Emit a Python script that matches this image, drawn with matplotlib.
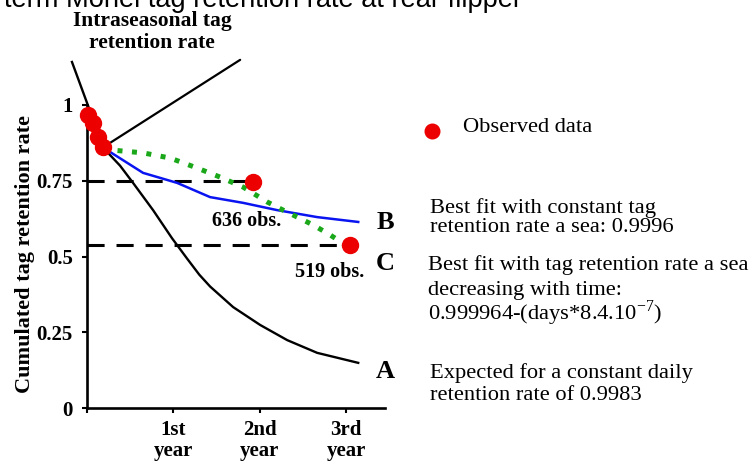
import matplotlib
matplotlib.use('Agg')
import matplotlib.pyplot as plt
from matplotlib.lines import Line2D

plt.rcParams['mathtext.fontset'] = 'custom'
plt.rcParams['mathtext.rm'] = 'Liberation Serif'

# ---------------- data (x in years, y = cumulated retention) ----------------
obs_x = [0.01, 0.07, 0.13, 0.185, 1.92, 3.05]
obs_y = [0.967, 0.941, 0.894, 0.861, 0.746, 0.538]

intra_x = [-0.174, 0.19]
intra_y = [1.142, 0.86]

curveA_x = [0.19, 0.243, 0.382, 0.533, 0.765, 0.985, 1.159, 1.30, 1.425, 1.692, 2.005, 2.318, 2.665, 3.14]
curveA_y = [0.86, 0.842, 0.800, 0.743, 0.653, 0.560, 0.493, 0.440, 0.401, 0.333, 0.274, 0.224, 0.182, 0.149]

curveB_x = [0.19, 0.267, 0.649, 1.043, 1.425, 1.808, 2.202, 2.665, 3.14]
curveB_y = [0.86, 0.845, 0.776, 0.743, 0.696, 0.677, 0.653, 0.630, 0.614]

curveC_x = [0.19, 0.301, 0.649, 0.962, 1.275, 1.541, 1.808, 2.086, 2.271, 2.619, 2.816, 3.082]
curveC_y = [0.86, 0.851, 0.842, 0.825, 0.792, 0.762, 0.729, 0.680, 0.653, 0.604, 0.571, 0.521]

ref_levels = [0.75, 0.538]
ref_ends = [1.92, 3.05]

ytick_vals = [0, 0.25, 0.5, 0.75, 1]
ytick_labels = ['0', '0.25', '0.5', '0.75', '1']
xtick_vals = [0, 1, 2, 3]
xtick_labels = ['', '1st\nyear', '2nd\nyear', '3rd\nyear']

# ---------------- figure ----------------
W, H = 754, 466
fig = plt.figure(figsize=(W / 100, H / 100), dpi=100)
ax = fig.add_axes([87 / W, (H - 408) / H, 298 / W, 303 / H])
ax.set_xlim(0, 3.45)
ax.set_ylim(0, 1)

SERIF = 'Liberation Serif'
RED = '#ec0000'
GREEN = '#1aa81a'
BLUE = '#0a14f0'

for s in ['top', 'right']:
    ax.spines[s].set_visible(False)
for s in ['left', 'bottom']:
    ax.spines[s].set_linewidth(1.9)

ax.set_yticks(ytick_vals)
ax.set_yticklabels(ytick_labels, fontfamily=SERIF, fontweight='bold', fontsize=15)
ax.set_xticks(xtick_vals)
ax.set_xticklabels(xtick_labels, fontfamily=SERIF, fontweight='bold', fontsize=15, linespacing=1.1)
ax.tick_params(axis='both', direction='out', length=3.6, width=1.5)
ax.tick_params(axis='y', pad=6.5)
ax.tick_params(axis='x', pad=5)

# reference dashed lines
for lvl, xe in zip(ref_levels, ref_ends):
    ax.plot([0, xe], [lvl, lvl], color='black', lw=2.2, dashes=(5.6, 3.9), zorder=2)

# curves
ax.plot(curveA_x, curveA_y, color='black', lw=1.7, zorder=3)
ax.plot(curveB_x, curveB_y, color=BLUE, lw=1.8, zorder=3)
ax.plot(curveC_x, curveC_y, color=GREEN, lw=3.6, dashes=(1.0, 1.9), zorder=3)

# intraseasonal line and pointer
ax.plot(intra_x, intra_y, color='black', lw=1.7, clip_on=False, zorder=3)
ax.annotate('', xy=(0.267, 0.875), xytext=(1.773, 1.149),
            arrowprops=dict(arrowstyle='-', color='black', lw=1.6,
                            shrinkA=0, shrinkB=0),
            annotation_clip=False)

# observed points
ax.plot(obs_x, obs_y, 'o', color=RED, ms=11.5, mec=RED, clip_on=False, zorder=5)


def ftext(px, py, s, **kw):
    fig.text(px / W, 1 - py / H, s, **kw)


# clipped title at the very top (as in the reference)
ftext(4, 7, 'term Monel tag retention rate at rear flipper', fontsize=19.6,
      fontfamily='Liberation Sans', ha='left', va='baseline')

ftext(152, 32, 'Intraseasonal tag\nretention rate', fontsize=15.5, fontfamily=SERIF,
      fontweight='bold', ha='center', va='center', linespacing=1.15)

ftext(25, 254, 'Cumulated tag retention rate', rotation=90, fontsize=16,
      fontfamily=SERIF, fontweight='bold', ha='center', va='center')

# legend marker
fig.add_artist(Line2D([432 / W], [1 - 131 / H], marker='o', color=RED, ms=10.5,
                      linestyle='none', transform=fig.transFigure))

reg = dict(fontsize=16.2, fontfamily=SERIF, ha='left', va='center')
ftext(463, 128, 'Observed data', **reg)
ftext(430, 208, 'Best fit with constant tag', **reg)
ftext(430, 228, 'retention rate a sea: 0.9996', **reg)
ftext(428, 265, 'Best fit with tag retention rate a sea', **reg)
ftext(428, 290, 'decreasing with time:', **reg)
ftext(428, 313, r'0.999964-(days*8.4.10$^{\mathrm{-7}}$)', **reg)
ftext(430, 373, 'Expected for a constant daily', **reg)
ftext(430, 395, 'retention rate of 0.9983', **reg)

big = dict(fontsize=19, fontfamily=SERIF, fontweight='bold', ha='center', va='center')
ftext(385, 222, 'B', **big)
ftext(385, 263, 'C', **big)
ftext(385, 372, 'A', **big)

obs_kw = dict(fontsize=14.5, fontfamily=SERIF, fontweight='bold', ha='center', va='center')
ftext(247, 221, '636 obs.', **obs_kw)
ftext(330, 272, '519 obs.', **obs_kw)

fig.savefig('out.png', dpi=100)
